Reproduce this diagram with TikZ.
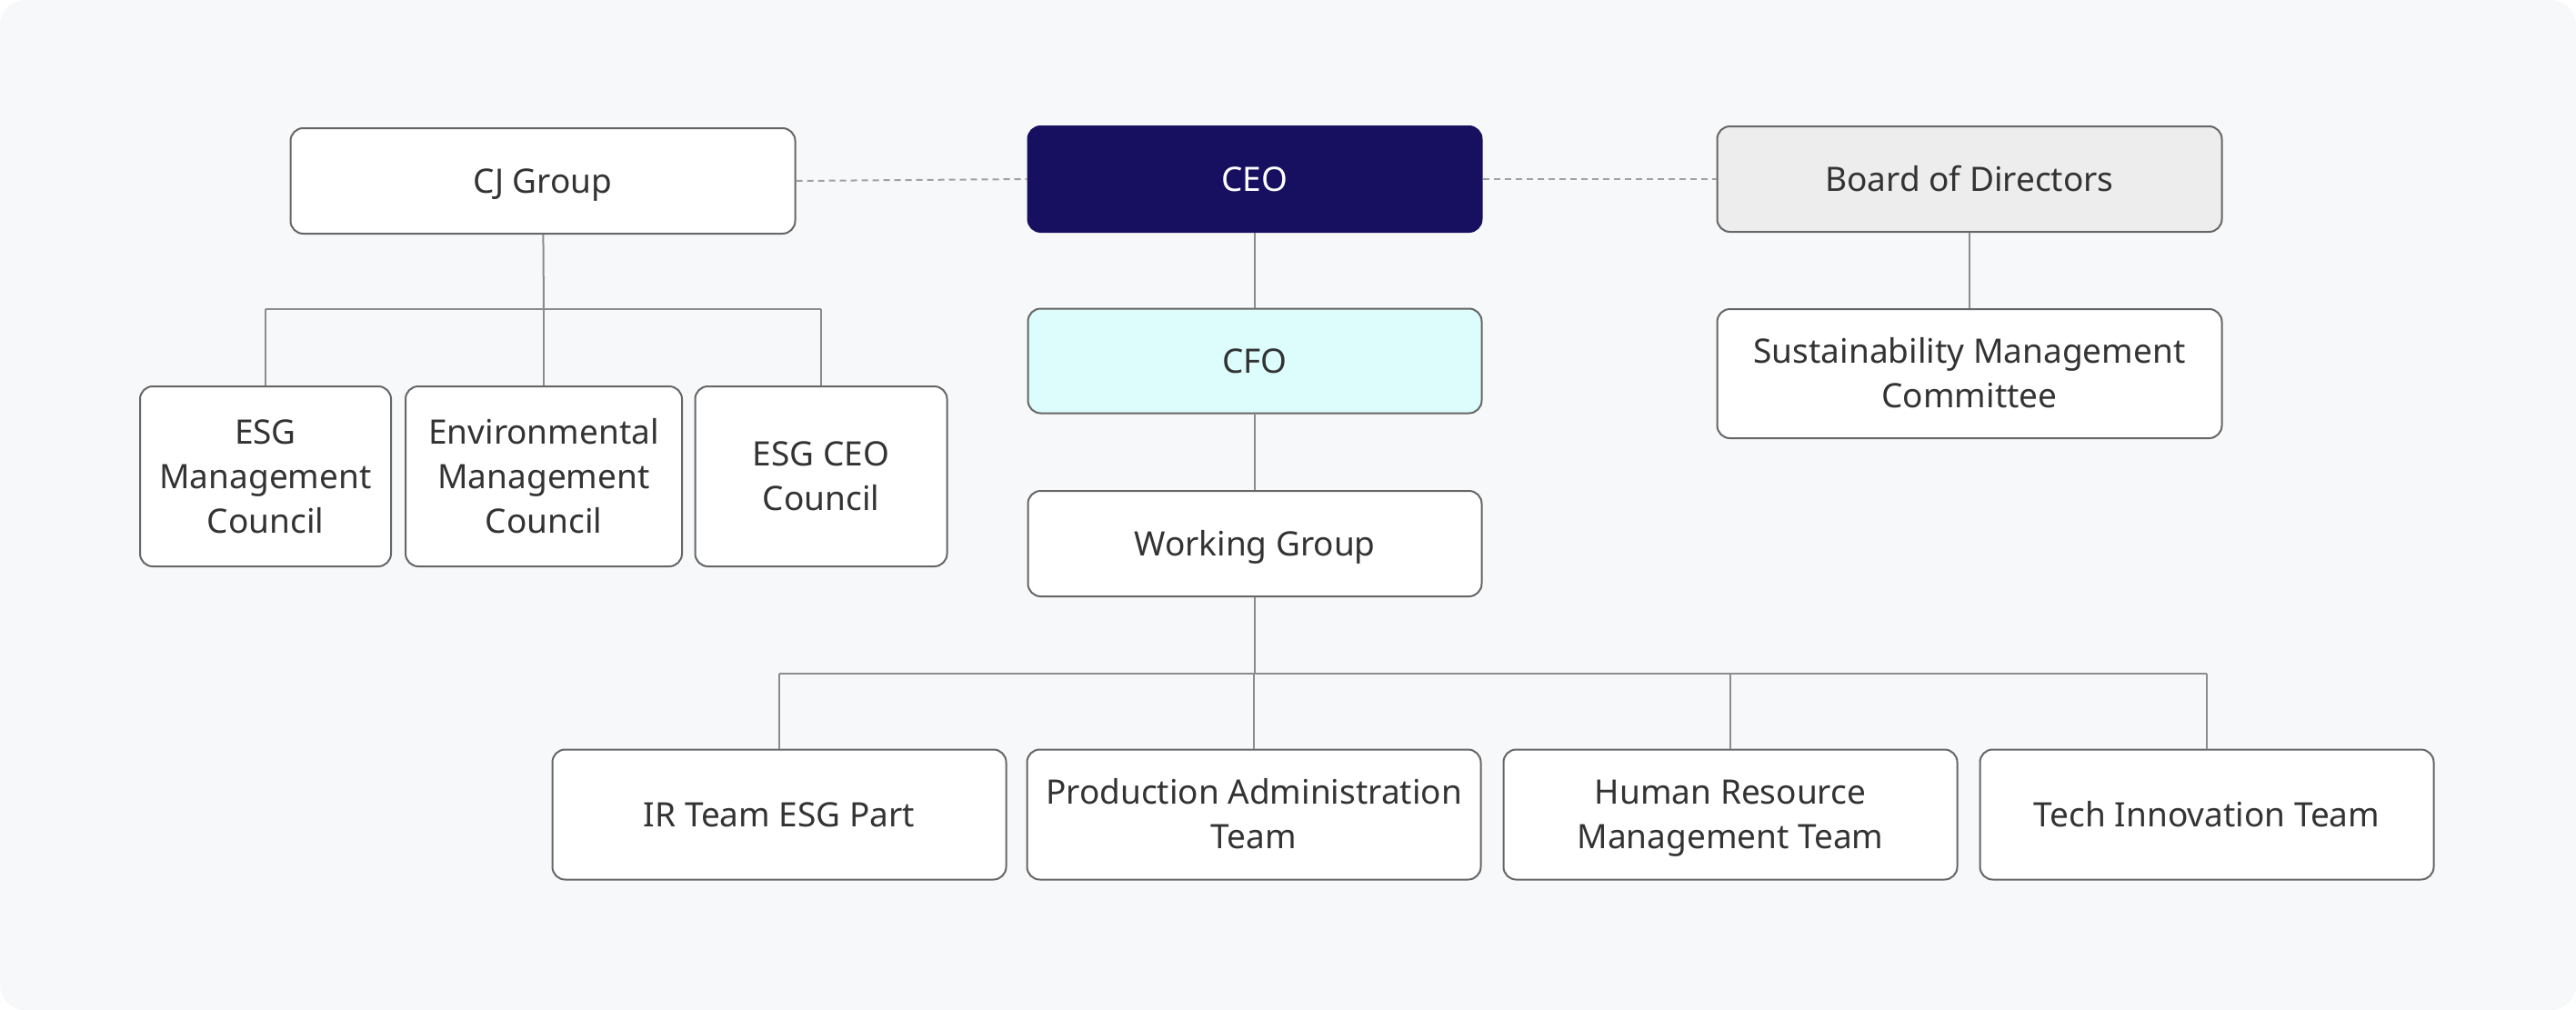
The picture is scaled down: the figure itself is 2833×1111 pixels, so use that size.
\documentclass[tikz,border=0pt]{standalone}
\usepackage{fontspec}
\setmainfont{Noto Sans}
\definecolor{bgcol}{HTML}{F7F8FA}
\definecolor{boxline}{HTML}{666666}
\definecolor{linkcol}{HTML}{8C8C8C}
\definecolor{dashcol}{HTML}{A0A0A0}
\definecolor{txtcol}{HTML}{333333}
\definecolor{ceocol}{HTML}{170F5F}
\definecolor{boardcol}{HTML}{EDEDED}
\definecolor{cfocol}{HTML}{DDFDFD}
% centred label, caps sit on the middle of the box
\newcommand{\lbl}[1]{\raisebox{-3.4pt}[\height][\depth]{\begin{tabular}{@{}c@{}}#1\end{tabular}}}
\begin{document}
\begin{tikzpicture}[x=1pt, y=-1pt,
    box/.style={draw=boxline, line width=2pt, rounded corners=14pt, fill=white,
        text=txtcol, inner sep=0pt,
        font=\fontsize{37}{49}\selectfont},
    wide/.style={box, minimum width=499pt},
    link/.style={draw=linkcol, line width=2pt},
    tie/.style={draw=dashcol, line width=2pt, dash pattern=on 7pt off 5pt}]
    % background
    \fill[bgcol, rounded corners=27pt] (0,0) rectangle (2833,1111);
    \useasboundingbox (0,0) rectangle (2833,1111);
    % top row
    \node[box, minimum width=555pt, minimum height=116pt] (cj) at (597,199) {\lbl{CJ Group}};
    \node[wide, minimum height=116pt, fill=ceocol, draw=ceocol, text=white] (ceo) at (1380,197) {\lbl{CEO}};
    \node[box, minimum width=555pt, minimum height=116pt, fill=boardcol] (board) at (2166,197) {\lbl{Board of Directors}};
    % middle column
    \node[wide, minimum height=115pt, fill=cfocol] (cfo) at (1380,397) {\lbl{CFO}};
    \node[wide, minimum height=116pt] (wg) at (1380,598) {\lbl{Working Group}};
    \node[box, minimum width=555pt, minimum height=142pt] (smc) at (2166,411) {\lbl{Sustainability Management\\Committee}};
    % councils
    \node[box, minimum width=276pt, minimum height=198pt] (esgmc) at (292,524) {\lbl{ESG\\Management\\Council}};
    \node[box, minimum width=304pt, minimum height=198pt] (envmc) at (598,524) {\lbl{Environmental\\Management\\Council}};
    \node[box, minimum width=277pt, minimum height=198pt] (esgceo) at (903,524) {\lbl{ESG CEO\\Council}};
    % teams
    \node[wide, minimum height=143pt] (ir) at (857,896) {\lbl{IR Team ESG Part}};
    \node[wide, minimum height=143pt] (prod) at (1379,896) {\lbl{Production Administration\\Team}};
    \node[wide, minimum height=143pt] (hr) at (1903,896) {\lbl{Human Resource\\Management Team}};
    \node[wide, minimum height=143pt] (tech) at (2427,896) {\lbl{Tech Innovation Team}};
    % dashed ties
    \draw[tie] (cj.east) -- (ceo.west);
    \draw[tie] (ceo.east) -- (board.west);
    % links
    \draw[link] (ceo) -- (cfo);
    \draw[link] (cfo) -- (wg);
    \draw[link] (board) -- (smc);
    \coordinate (cjbus) at (598,340);
    \draw[link] (cj) -- (cjbus);
    \draw[link] (esgmc.north |- cjbus) -- (esgceo.north |- cjbus);
    \foreach \n in {esgmc,envmc,esgceo}{
        \draw[link] (\n.north |- cjbus) -- (\n.north);
    }
    \coordinate (wgbus) at (1380,741);
    \draw[link] (wg) -- (wgbus);
    \draw[link] (ir.north |- wgbus) -- (tech.north |- wgbus);
    \foreach \n in {ir,prod,hr,tech}{
        \draw[link] (\n.north |- wgbus) -- (\n.north);
    }
\end{tikzpicture}
\end{document}
